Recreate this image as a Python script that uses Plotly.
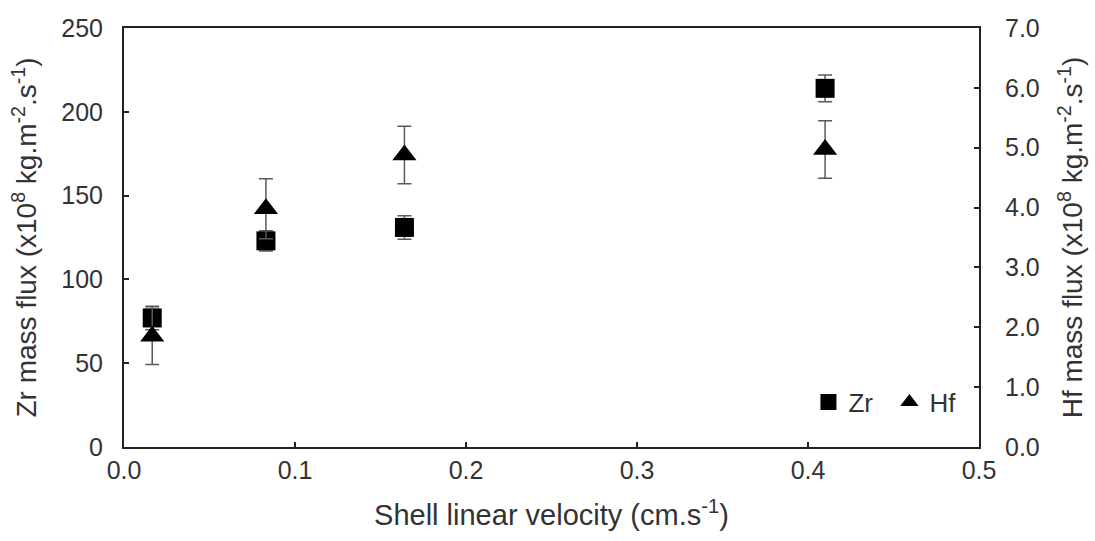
import plotly.graph_objects as go

# Shell linear velocity (cm/s)
velocity = [0.0165, 0.083, 0.164, 0.41]

# Zr mass flux (x10^8 kg m^-2 s^-1) with error
zr_flux = [77, 123, 131, 214]
zr_err = [7, 6, 7, 8]

# Hf mass flux (x10^8 kg m^-2 s^-1) with error
hf_flux = [1.85, 3.98, 4.88, 4.97]
hf_err = [0.47, 0.5, 0.48, 0.48]

x_ticks = [0.0, 0.1, 0.2, 0.3, 0.4, 0.5]
zr_ticks = [0, 50, 100, 150, 200, 250]
hf_ticks = [0.0, 1.0, 2.0, 3.0, 4.0, 5.0, 6.0, 7.0]

FONT = "Liberation Sans, Arial, sans-serif"
TEXT_COLOR = "#333333"
AXIS_COLOR = "#222222"
ERR_COLOR = "#5a5a5a"

fig = go.Figure()

fig.add_trace(go.Scatter(
    x=velocity, y=hf_flux, name="Hf", mode="markers", yaxis="y2",
    marker=dict(symbol="triangle-up", size=21, color="black"),
    error_y=dict(type="data", array=hf_err, visible=True,
                 color=ERR_COLOR, thickness=1.5, width=7),
))

fig.add_trace(go.Scatter(
    x=velocity, y=zr_flux, name="Zr", mode="markers",
    marker=dict(symbol="square", size=19, color="black"),
    error_y=dict(type="data", array=zr_err, visible=True,
                 color=ERR_COLOR, thickness=1.5, width=7),
))

axis_common = dict(
    showline=True, linecolor=AXIS_COLOR, linewidth=2,
    ticks="inside", ticklen=5, tickwidth=1.5, tickcolor=AXIS_COLOR,
    showgrid=False, zeroline=False,
    tickfont=dict(family=FONT, size=25, color=TEXT_COLOR),
)
title_font = dict(family=FONT, size=28, color=TEXT_COLOR)

fig.update_layout(
    width=1095, height=541,
    margin=dict(l=124, r=116, t=28, b=94),
    paper_bgcolor="white", plot_bgcolor="white",
    font=dict(family=FONT, color=TEXT_COLOR),
    xaxis=dict(
        range=[0, 0.5], tickvals=x_ticks, tickformat=".1f", mirror=True,
        title=dict(text="Shell linear velocity (cm.s<sup>-1</sup>)",
                   font=dict(family=FONT, size=29, color=TEXT_COLOR), standoff=22),
        ticklabelstandoff=0,
        **axis_common,
    ),
    yaxis=dict(
        range=[0, 250], tickvals=zr_ticks,
        title=dict(text="Zr mass flux (x10<sup>8</sup> kg.m<sup>-2</sup>.s<sup>-1</sup>)",
                   font=title_font, standoff=16),
        ticklabelstandoff=14,
        **axis_common,
    ),
    yaxis2=dict(
        range=[0, 7], tickvals=hf_ticks, tickformat=".1f",
        overlaying="y", side="right",
        title=dict(text="Hf mass flux (x10<sup>8</sup> kg.m<sup>-2</sup>.s<sup>-1</sup>)",
                   font=title_font, standoff=24),
        ticklabelstandoff=19,
        **axis_common,
    ),
    legend=dict(
        orientation="h", traceorder="reversed",
        x=0.8005, xanchor="left", y=0.107, yanchor="middle",
        bgcolor="rgba(0,0,0,0)",
        font=dict(family=FONT, size=26, color=TEXT_COLOR),
        itemwidth=30, entrywidth=36,
    ),
    showlegend=True,
)

fig.write_html("out.html")
